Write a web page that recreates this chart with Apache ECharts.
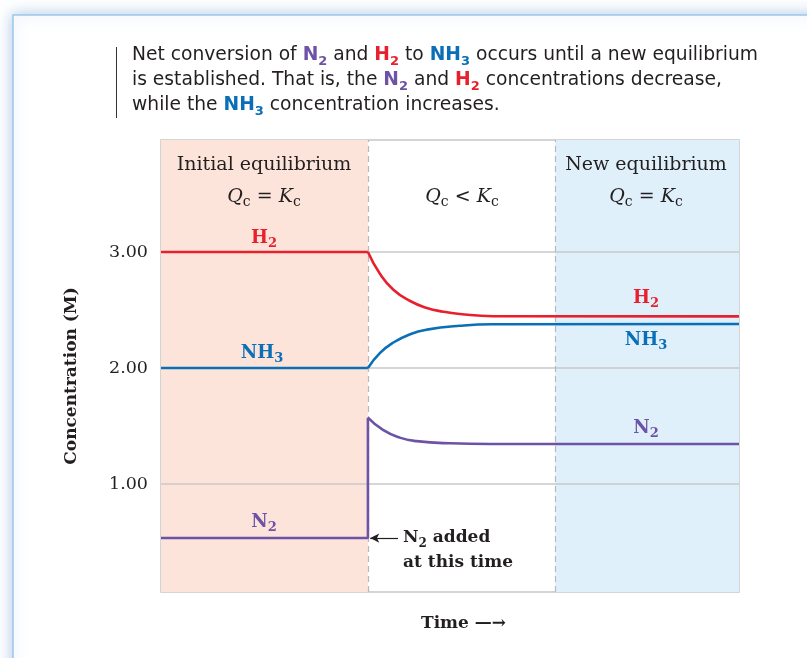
<!DOCTYPE html>
<html><head><meta charset="utf-8">
<script src="https://cdn.jsdelivr.net/npm/echarts@6/dist/echarts.min.js"></script>
<style>html,body{margin:0;padding:0;background:#fff}#c{width:807px;height:658px}</style>
</head><body><div id="c"></div>
<script>
// ---- data ----
const regionBounds = [0, 35.8, 68.2, 100];        // time: initial eq | Qc<Kc | new eq
const yTicks = [1.00, 2.00, 3.00];
const addTime = 35.8;                              // N2 added at this time
// initial equilibrium (flat)
const h2Initial = 3.00, nh3Initial = 2.00, n2Initial = 0.534, n2AfterAdd = 1.572;
// response after N2 is added
const h2Time  = [35.8, 37.9, 40.2, 43.1, 46.0, 48.8, 51.7, 57.4, 100];
const h2Conc  = [3.00, 2.81, 2.675, 2.578, 2.518, 2.486, 2.466, 2.447, 2.445];
const nh3Time = [35.8, 37.9, 40.2, 43.1, 46.0, 51.7, 57.4, 100];
const nh3Conc = [2.00, 2.13, 2.22, 2.292, 2.331, 2.364, 2.377, 2.38];
const n2Time  = [35.8, 38.4, 41.3, 44.2, 50.0, 57.0, 100];
const n2Conc  = [1.572, 1.466, 1.40, 1.37, 1.351, 1.345, 1.345];

const RED = '#e8202e', BLUE = '#0a6fb6', PURPLE = '#6d52a8';
const SERIF = '"DejaVu Serif", "Liberation Serif", serif';
const SANS = '"DejaVu Sans", "Liberation Sans", sans-serif';

const zip = (a, b) => a.map((v, i) => [v, b[i]]);

const chart = echarts.init(document.getElementById('c'), null, {renderer: 'canvas'});

function st(size, weight, color, family, extra) {
  return Object.assign({fontSize: size, fontWeight: weight, fill: color, fontFamily: family}, extra || {});
}
function chemRich(size, family, lh, subLh) {
  const s = Math.round(size * 0.72);
  return {
    t:  st(size, 'normal', '#231f20', family, {lineHeight: lh}),
    nb: st(size, 'bold', PURPLE, family, {lineHeight: lh}),
    ns: st(s, 'bold', PURPLE, family, {lineHeight: subLh, verticalAlign: 'bottom'}),
    hb: st(size, 'bold', RED, family, {lineHeight: lh}),
    hs: st(s, 'bold', RED, family, {lineHeight: subLh, verticalAlign: 'bottom'}),
    ab: st(size, 'bold', BLUE, family, {lineHeight: lh}),
    as: st(s, 'bold', BLUE, family, {lineHeight: subLh, verticalAlign: 'bottom'}),
    kb: st(size, 'bold', '#231f20', family, {lineHeight: lh}),
    ks: st(s, 'bold', '#231f20', family, {lineHeight: subLh, verticalAlign: 'bottom'}),
    qi: st(size, 'normal', '#231f20', family, {lineHeight: lh, fontStyle: 'italic'}),
    qs: st(s, 'normal', '#231f20', family, {lineHeight: subLh, verticalAlign: 'bottom'})
  };
}
function label(x, y, text, rich, align, rot) {
  return {type: 'text', x: x, y: y, z: 50, rotation: rot || 0,
    style: {text: text, rich: rich, align: align || 'center', verticalAlign: 'middle'}};
}
const R19 = chemRich(19, SERIF, 24, 12);
const R18 = chemRich(18, SERIF, 24, 12);
const RB = chemRich(17, SERIF, 24, 12);
const TOP = chemRich(18.7, SANS, 25, 13);

function flat(name, color, pts) {
  return {type: 'line', name: name, data: pts, smooth: false, showSymbol: false, z: 5,
    lineStyle: {color: color, width: 2.6}};
}
function curve(name, color, pts) {
  return {type: 'line', name: name, data: pts, smooth: 0.5, showSymbol: false, z: 5,
    lineStyle: {color: color, width: 2.6}};
}

const n2Flat = flat('N2', PURPLE, [[regionBounds[0], n2Initial], [addTime, n2Initial], [addTime, n2AfterAdd]]);
n2Flat.markLine = {silent: true, symbol: ['none', 'arrow'], symbolSize: [7, 9], label: {show: false},
  lineStyle: {color: '#231f20', width: 1.2, type: 'solid'},
  data: [[{coord: [41.0, n2Initial]}, {coord: [addTime + 0.4, n2Initial]}]]};

const option = {
  backgroundColor: '#ffffff',
  animation: false,
  grid: {left: 161, right: 68, top: 140, bottom: 66, show: true, borderColor: '#c6c6c6', borderWidth: 1.5, backgroundColor: 'transparent'},
  xAxis: {type: 'value', min: regionBounds[0], max: regionBounds[3],
    axisLine: {show: false}, axisTick: {show: false}, axisLabel: {show: false}, splitLine: {show: false}},
  yAxis: {type: 'value', min: 0.069, max: 3.966,
    axisLine: {show: false}, axisTick: {show: false}, splitLine: {show: false},
    axisLabel: {customValues: yTicks, formatter: v => v.toFixed(2), margin: 13,
      fontFamily: SERIF, fontSize: 17.5, color: '#231f20'}},
  graphic: [
    {type: 'rect', z: -10, shape: {x: 13, y: 15, width: 820, height: 700},
      style: {fill: '#ffffff', stroke: '#9fc6e8', lineWidth: 1.5, shadowBlur: 14, shadowColor: 'rgba(110,160,215,0.55)'}},
    {type: 'line', z: 10, shape: {x1: 116.5, y1: 47, x2: 116.5, y2: 118}, style: {stroke: '#333', lineWidth: 1}},
    {type: 'text', x: 132, y: 43, z: 50, style: {rich: TOP, align: 'left', verticalAlign: 'top',
      text: '{t|Net conversion of }{nb|N}{ns|2}{t| and }{hb|H}{hs|2}{t| to }{ab|NH}{as|3}{t| occurs until a new equilibrium}\n' +
            '{t|is established. That is, the }{nb|N}{ns|2}{t| and }{hb|H}{hs|2}{t| concentrations decrease,}\n' +
            '{t|while the }{ab|NH}{as|3}{t| concentration increases.}'}},
    label(264, 165, '{t|Initial equilibrium}', R19),
    label(264, 197, '{qi|Q}{qs|c}{t| = }{qi|K}{qs|c}', R19),
    label(462, 197, '{qi|Q}{qs|c}{t| < }{qi|K}{qs|c}', R19),
    label(646, 165, '{t|New equilibrium}', R19),
    label(646, 197, '{qi|Q}{qs|c}{t| = }{qi|K}{qs|c}', R19),
    label(264, 238, '{hb|H}{hs|2}', R18),
    label(262, 353, '{ab|NH}{as|3}', R18),
    label(264, 522, '{nb|N}{ns|2}', R18),
    label(646, 298, '{hb|H}{hs|2}', R18),
    label(646, 340, '{ab|NH}{as|3}', R18),
    label(646, 428, '{nb|N}{ns|2}', R18),
    label(403, 538, '{kb|N}{ks|2}{kb| added}', RB, 'left'),
    label(403, 563, '{kb|at this time}', RB, 'left'),
    label(421, 624, '{kb|Time —→}', RB, 'left'),
    label(72, 376, '{kb|Concentration (M)}', RB, 'center', Math.PI / 2)
  ],
  series: [
    {type: 'line', name: 'helper', data: [], silent: true, z: 1,
      markArea: {silent: true, data: [
        [{xAxis: regionBounds[0], itemStyle: {color: '#fde4da'}}, {xAxis: regionBounds[1]}],
        [{xAxis: regionBounds[2], itemStyle: {color: '#dff0fb'}}, {xAxis: regionBounds[3]}]
      ]},
      markLine: {silent: true, symbol: 'none', label: {show: false},
        data: [
          ...yTicks.map(v => ({yAxis: v, lineStyle: {color: '#c8c8c8', width: 1.5, type: 'solid'}})),
          {xAxis: regionBounds[1], lineStyle: {color: '#b8b8b8', width: 1.2, type: [6, 4]}},
          {xAxis: regionBounds[2], lineStyle: {color: '#b8b8b8', width: 1.2, type: [6, 4]}}
        ]}},
    flat('H2', RED, [[regionBounds[0], h2Initial], [addTime, h2Initial]]),
    curve('H2', RED, zip(h2Time, h2Conc)),
    flat('NH3', BLUE, [[regionBounds[0], nh3Initial], [addTime, nh3Initial]]),
    curve('NH3', BLUE, zip(nh3Time, nh3Conc)),
    n2Flat,
    curve('N2', PURPLE, zip(n2Time, n2Conc))
  ]
};
chart.setOption(option);
</script></body></html>
